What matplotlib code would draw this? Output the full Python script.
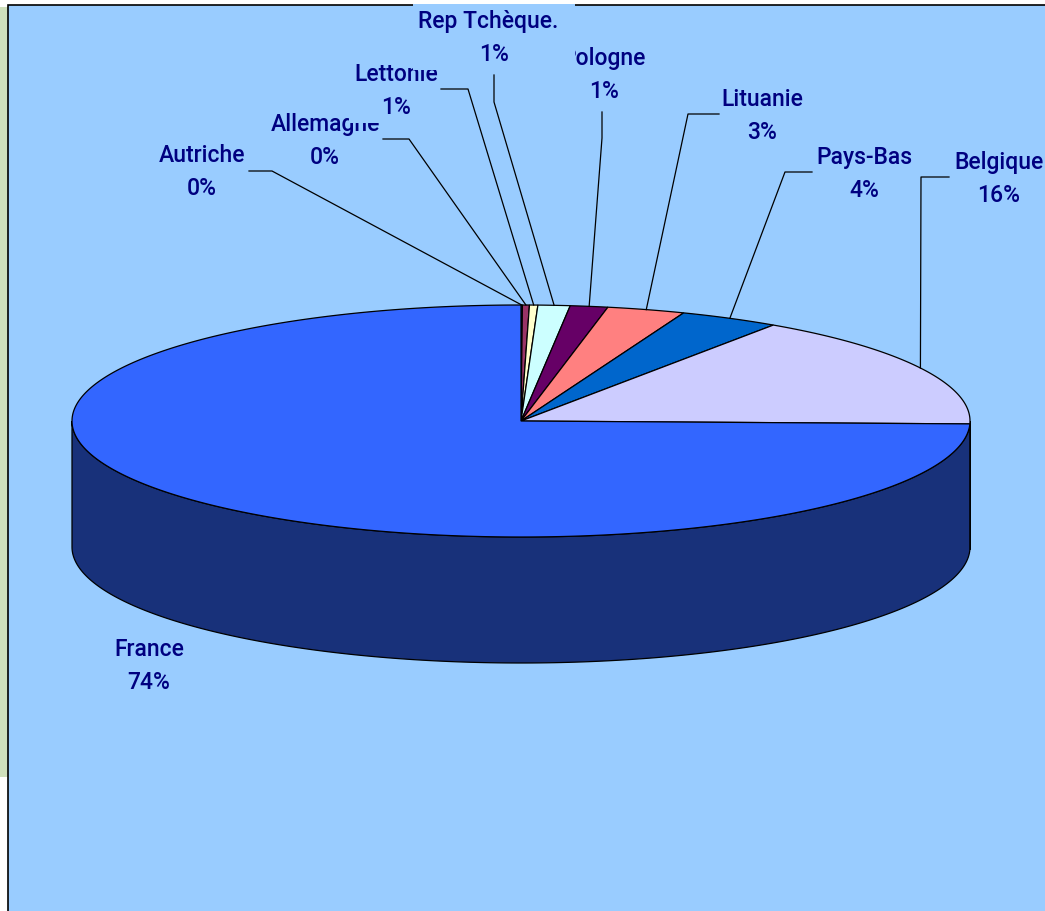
import numpy as np
import matplotlib
matplotlib.use("Agg")
import matplotlib.pyplot as plt
from matplotlib.patches import Polygon, Rectangle
from matplotlib.colors import to_rgb

# Data (share of total, %), slices go clockwise from 12 o'clock
countries = ["Autriche", "Allemagne", "Lettonie", "Rep Tchèque.", "Pologne",
             "Lituanie", "Pays-Bas", "Belgique", "France"]
values = [0.05, 0.25, 0.3, 1.15, 1.35, 2.8, 3.6, 15.9, 74.6]
pct_labels = ["0%", "0%", "1%", "1%", "1%", "3%", "4%", "16%", "74%"]
colors = ["#9999FF", "#993366", "#FFFFCC", "#CCFFFF", "#660066",
          "#FF8080", "#0066CC", "#CCCCFF", "#3366FF"]

# layout (pixels)
W, H = 1045, 912
cx, cy, rx, ry, depth = 521, 422, 449, 116, 126
label_pos = {
    "Autriche": (202, 172), "Allemagne": (325, 141), "Lettonie": (396, 91),
    "Rep Tchèque.": (494, 38), "Pologne": (604, 75), "Lituanie": (762, 116),
    "Pays-Bas": (864, 174), "Belgique": (999, 179), "France": (149, 666),
}
elbows = {
    "Autriche": [(249, 172), (272, 172)], "Allemagne": [(383, 140), (409, 140)],
    "Lettonie": [(441, 90), (468, 90)], "Rep Tchèque.": [(494, 76), (494, 103)],
    "Pologne": [(602, 113), (602, 139)], "Lituanie": [(719, 115), (688, 115)],
    "Pays-Bas": [(812, 173), (785, 173)], "Belgique": [(949, 178), (921, 178)],
}
zorders = {"Allemagne": 5, "Lettonie": 6, "Pologne": 6, "Rep Tchèque.": 7}

fig = plt.figure(figsize=(W / 100, H / 100), dpi=100)
fig.patch.set_facecolor("white")
ax = fig.add_axes([0, 0, 1, 1])
ax.set_xlim(0, W)
ax.set_ylim(H, 0)
ax.axis("off")

# background
ax.add_patch(Rectangle((0, 8), 8, 770, facecolor="#CFE0BC", edgecolor="none"))
ax.add_patch(Rectangle((8, 6), W, H, facecolor="#99CCFF", edgecolor="black", lw=1.2))


def ell(t, dy=0):
    t = np.radians(t)
    return np.column_stack([cx + rx * np.cos(t), cy - ry * np.sin(t) + dy])


cum = np.concatenate([[0], np.cumsum(values)]) / sum(values) * 360
starts = 90 - cum[:-1]
ends = 90 - cum[1:]

# sides (front half only, angles between -180 and 0)
for a1, a2, c in zip(starts, ends, colors):
    hi, lo = min(a1, 0), max(a2, -180)
    if hi <= lo:
        continue
    t = np.linspace(hi, lo, 200)
    pts = np.vstack([ell(t), ell(t[::-1], depth)])
    dark = tuple(v * 0.48 for v in to_rgb(c))
    ax.add_patch(Polygon(pts, closed=True, facecolor=dark, edgecolor="black", lw=0.9, zorder=2))

# tops
for a1, a2, c in zip(starts, ends, colors):
    t = np.linspace(a1, a2, max(int(abs(a1 - a2) * 2), 4))
    pts = np.vstack([[cx, cy], ell(t)])
    ax.add_patch(Polygon(pts, closed=True, facecolor=c, edgecolor="black", lw=0.9, zorder=3))

# labels and leader lines
for name, pct, a1, a2 in zip(countries, pct_labels, starts, ends):
    x, y = label_pos[name]
    first = name + "  " if name == "Rep Tchèque." else name
    ax.text(x, y, f"{first}\n{pct}", ha="center", va="center", multialignment="center",
            color="#000080", fontsize=16.5, fontweight="medium",
            family=["Roboto", "DejaVu Sans"], linespacing=1.55,
            zorder=zorders.get(name, 5),
            bbox=dict(boxstyle="square,pad=0.22", facecolor="#99CCFF", edgecolor="none"))
    if name in elbows:
        tip = ell(np.array([(a1 + a2) / 2]))[0]
        pts = np.array(elbows[name] + [tuple(tip)])
        ax.plot(pts[:, 0], pts[:, 1], color="black", lw=0.9, zorder=8)

fig.savefig("out.png", dpi=100, facecolor=fig.get_facecolor())
